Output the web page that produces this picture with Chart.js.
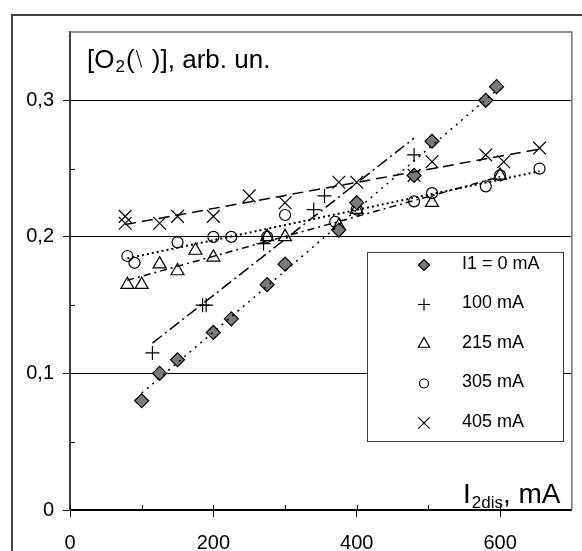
<!DOCTYPE html>
<html lang="en">
<head>
<meta charset="UTF-8">
<title>[O2] vs I2dis</title>
<script src="https://cdn.jsdelivr.net/npm/chart.js"></script>
<style>
  html, body { margin: 0; padding: 0; background: #fff; }
  #wrap { width: 582px; height: 551px; }
</style>
</head>
<body>
<div id="wrap"><canvas id="chart" width="582" height="551"></canvas></div>
<script>
// series labels (discharge current I1)
const seriesNames = ["I1 = 0 mA", "100 mA", "215 mA", "305 mA", "405 mA"];

// I2dis, mA  /  [O2], arb. un.
const xI0 = [100, 125, 150, 200, 225, 275, 300, 375, 400, 480, 505, 580, 595];
const yI0 = [0.080, 0.100, 0.110, 0.130, 0.140, 0.165, 0.180, 0.205, 0.225, 0.245, 0.270, 0.300, 0.310];

const xI100 = [115, 185, 190, 270, 340, 355, 480];
const yI100 = [0.115, 0.150, 0.150, 0.195, 0.220, 0.230, 0.260];

const xI215 = [80, 100, 125, 150, 175, 200, 275, 300, 375, 400, 505, 600];
const yI215 = [0.165, 0.165, 0.180, 0.175, 0.190, 0.185, 0.200, 0.200, 0.208, 0.220, 0.225, 0.245];

const xI305 = [80, 90, 150, 200, 225, 275, 300, 370, 400, 480, 505, 580, 600, 655];
const yI305 = [0.186, 0.181, 0.196, 0.200, 0.200, 0.200, 0.216, 0.211, 0.220, 0.226, 0.232, 0.237, 0.245, 0.250];

const xI405 = [77, 77, 125, 150, 200, 250, 300, 375, 400, 480, 505, 580, 605, 655];
const yI405 = [0.215, 0.210, 0.210, 0.215, 0.215, 0.230, 0.225, 0.240, 0.240, 0.245, 0.255, 0.260, 0.255, 0.265];

const xTicks = [0, 200, 400, 600];
const yTicks = [0, 0.1, 0.2, 0.3];
const yTickLabels = ["0", "0,1", "0,2", "0,3"];

const FONT = "'Liberation Sans', Arial, sans-serif";

const seriesX = [xI0, xI100, xI215, xI305, xI405];
const seriesY = [yI0, yI100, yI215, yI305, yI405];
const styles = [
    { shape: "rectRot", r: 7, fill: "#7a7a7a", legendR: 5.5, dash: [2, 5] },
    { shape: "cross", r: 7, fill: "transparent", legendR: 6, dash: [12, 4, 2, 4] },
    { shape: "triangle", r: 7.5, fill: "transparent", legendR: 6.5, dash: [7, 4, 2, 4] },
    { shape: "circle", r: 5.5, fill: "transparent", legendR: 4.5, dash: [2, 3] },
    { shape: "crossRot", r: 9, fill: "transparent", legendR: 8, dash: [11, 6] }
];

// least squares line over the range of the series
function trend(xs, ys) {
    const n = xs.length;
    const mx = xs.reduce((a, b) => a + b, 0) / n;
    const my = ys.reduce((a, b) => a + b, 0) / n;
    let sxy = 0, sxx = 0;
    for (let i = 0; i < n; i++) {
        sxy += (xs[i] - mx) * (ys[i] - my);
        sxx += (xs[i] - mx) * (xs[i] - mx);
    }
    const k = sxy / sxx, b = my - k * mx;
    const lo = Math.min(...xs), hi = Math.max(...xs);
    return [{ x: lo, y: k * lo + b }, { x: hi, y: k * hi + b }];
}

let datasets = [];
for (let i = 0; i < seriesX.length; i++) {
    datasets.push({
        type: "line",
        label: "fit " + seriesNames[i],
        data: trend(seriesX[i], seriesY[i]),
        borderColor: "#000",
        borderWidth: i == 3 ? 2 : 1.5,
        borderDash: styles[i].dash,
        pointRadius: 0,
        fill: false,
        order: 0
    });
    datasets.push({
        type: "scatter",
        label: seriesNames[i],
        data: seriesX[i].map((x, j) => ({ x: x, y: seriesY[i][j] })),
        pointStyle: styles[i].shape,
        pointRadius: styles[i].r,
        pointHoverRadius: styles[i].r,
        pointBackgroundColor: styles[i].fill,
        pointBorderColor: "#000",
        pointBorderWidth: 1.2,
        showLine: false,
        order: 1
    });
}

function drawMarker(ctx, shape, x, y, r, fill) {
    ctx.beginPath();
    if (shape == "rectRot") {
        ctx.moveTo(x - r, y); ctx.lineTo(x, y - r); ctx.lineTo(x + r, y); ctx.lineTo(x, y + r); ctx.closePath();
    } else if (shape == "cross") {
        ctx.moveTo(x - r, y); ctx.lineTo(x + r, y); ctx.moveTo(x, y - r); ctx.lineTo(x, y + r);
    } else if (shape == "triangle") {
        ctx.moveTo(x, y - r); ctx.lineTo(x + 0.866 * r, y + 0.5 * r); ctx.lineTo(x - 0.866 * r, y + 0.5 * r); ctx.closePath();
    } else if (shape == "circle") {
        ctx.arc(x, y, r, 0, Math.PI * 2);
    } else {
        const d = r * Math.SQRT1_2;
        ctx.moveTo(x - d, y - d); ctx.lineTo(x + d, y + d); ctx.moveTo(x + d, y - d); ctx.lineTo(x - d, y + d);
    }
    if (fill != "transparent") { ctx.fillStyle = fill; ctx.fill(); }
    ctx.stroke();
}

// write text pieces one after another, returns new x
function put(ctx, text, x, y, font) {
    ctx.font = font;
    ctx.fillText(text, x, y);
    return x + ctx.measureText(text).width;
}

// frame, extra ticks, texts and legend box
const decorations = {
    id: "decorations",
    beforeDraw(chart) {
        const ctx = chart.ctx;
        ctx.save();
        ctx.strokeStyle = "#404040";
        ctx.lineWidth = 2;
        ctx.beginPath();
        ctx.moveTo(12, 551); ctx.lineTo(12, 15); ctx.lineTo(582, 15);
        ctx.stroke();
        ctx.restore();
    },
    afterDraw(chart) {
        const ctx = chart.ctx;
        const a = chart.chartArea;
        const xs = chart.scales.x, ys = chart.scales.y;
        ctx.save();
        // top and right border of the plot
        ctx.strokeStyle = "#707070";
        ctx.lineWidth = 1.5;
        ctx.beginPath();
        ctx.moveTo(a.left, a.top); ctx.lineTo(a.right, a.top); ctx.lineTo(a.right, a.bottom);
        ctx.stroke();

        // inside ticks
        ctx.strokeStyle = "#000";
        ctx.lineWidth = 1;
        ctx.beginPath();
        for (let v = 0; v <= 600; v += 100) {
            const px = Math.round(xs.getPixelForValue(v)) + 0.5;
            ctx.moveTo(px, a.bottom); ctx.lineTo(px, a.bottom - 5);
        }
        for (let v = 0.05; v < 0.35; v += 0.1) {
            const py = Math.round(ys.getPixelForValue(v)) + 0.5;
            ctx.moveTo(a.left, py); ctx.lineTo(a.left + 5, py);
        }
        ctx.stroke();

        // y title
        ctx.fillStyle = "#000";
        ctx.textBaseline = "alphabetic";
        ctx.textAlign = "left";
        const big = "26px " + FONT;
        let tx = put(ctx, "[O", 87, 68, big);
        tx = put(ctx, "2", tx + 1, 72, "17px " + FONT);
        tx = put(ctx, "(", tx + 1, 68, big);
        tx = put(ctx, "\\", tx + 1, 66, "200 21px 'DejaVu Sans', sans-serif");
        tx = put(ctx, " )], arb. un.", tx + 2, 68, big);

        // x title
        tx = put(ctx, "I", 463, 503, "28px " + FONT);
        tx = put(ctx, "2dis", tx + 1, 508, "17px " + FONT);
        put(ctx, ", mA", tx, 503, "28px " + FONT);

        // legend
        ctx.fillStyle = "#fff";
        ctx.fillRect(367, 252, 196, 189);
        ctx.strokeStyle = "#404040";
        ctx.lineWidth = 1;
        ctx.strokeRect(367.5, 252.5, 196, 189);
        ctx.textBaseline = "middle";
        for (let i = 0; i < seriesNames.length; i++) {
            const cy = 264 + i * 39.5;
            ctx.strokeStyle = "#000";
            ctx.lineWidth = 1.2;
            drawMarker(ctx, styles[i].shape, 424, cy + 1, styles[i].legendR, styles[i].fill);
            ctx.fillStyle = "#000";
            put(ctx, seriesNames[i], 462, cy, "18px " + FONT);
        }
        ctx.restore();
    }
};

const ctx = document.getElementById("chart").getContext("2d");
const chart = new Chart(ctx, {
    data: { datasets: datasets },
    plugins: [decorations],
    options: {
        responsive: false,
        animation: false,
        devicePixelRatio: 1,
        layout: { padding: { top: 32, right: 10, left: 0, bottom: 0 } },
        plugins: { legend: { display: false }, tooltip: { enabled: false } },
        scales: {
            x: {
                type: "linear",
                min: 0,
                max: 700,
                afterBuildTicks: s => { s.ticks = xTicks.map(v => ({ value: v })); },
                afterFit: s => { s.height = 41; },
                border: { color: "#000", width: 1.5 },
                grid: { drawOnChartArea: false, drawTicks: true, tickLength: 7, color: "#000", lineWidth: 1 },
                ticks: { color: "#000", padding: 14, font: { family: FONT, size: 20 } }
            },
            y: {
                type: "linear",
                min: 0,
                max: 0.35,
                afterBuildTicks: s => { s.ticks = yTicks.map(v => ({ value: v })); },
                afterFit: s => { s.width = 70; },
                border: { color: "#404040", width: 2 },
                grid: { drawTicks: true, tickLength: 7, color: "#000", lineWidth: 1 },
                ticks: {
                    color: "#000",
                    padding: 9,
                    font: { family: FONT, size: 20 },
                    callback: (v, i) => yTickLabels[i]
                }
            }
        }
    }
});
</script>
</body>
</html>
